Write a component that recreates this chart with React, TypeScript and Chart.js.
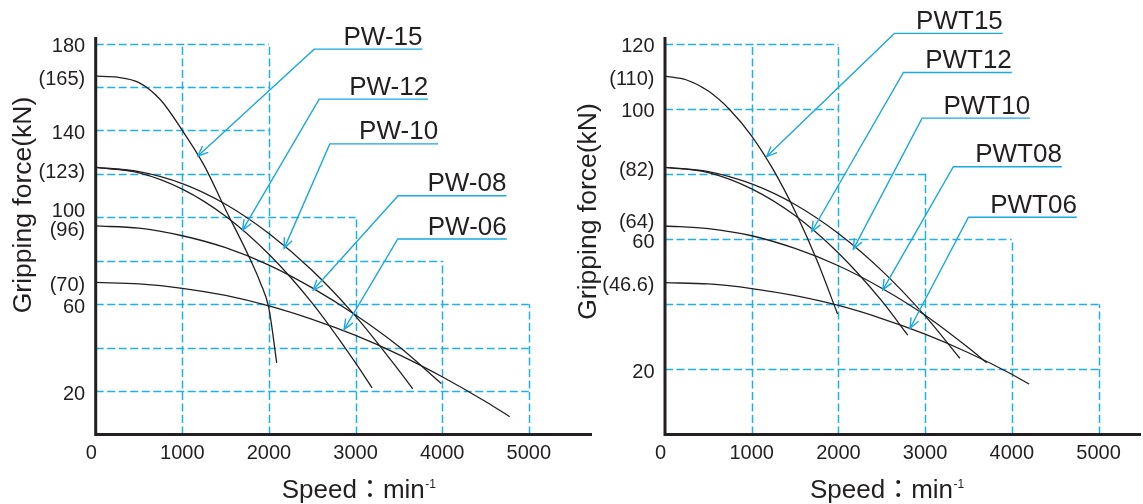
import React, { useEffect, useRef } from 'react';
import { Chart, registerables } from 'chart.js';

Chart.register(...registerables);

// ---------------- DATA ----------------
const speedTicks = [0, 1000, 2000, 3000, 4000, 5000];

// Left panel: PW series (speed min^-1 -> gripping force kN)
const pwNames = ['PW-15', 'PW-12', 'PW-10', 'PW-08', 'PW-06'];
const pw15Speed = [0, 250, 500, 750, 1000, 1250, 1500, 1750, 1900, 2000, 2090];
const pw15Force = [165, 164.5, 162, 154, 140, 124, 103.5, 83.5, 70, 58, 33];
const pw12Speed = [0, 500, 1000, 1500, 2000, 2500, 3000, 3190];
const pw12Force = [123, 120.5, 113, 100.5, 83, 60.5, 33, 21.5];
const pw10Speed = [0, 500, 1000, 1500, 2000, 2500, 3000, 3500, 3660];
const pw10Force = [123, 121, 115.5, 106, 92.5, 75.5, 54.5, 29.5, 21];
const pw08Speed = [0, 500, 1000, 1500, 2000, 2500, 3000, 3500, 3990];
const pw08Force = [96, 95, 91.5, 86, 78, 67.5, 55, 40.5, 23.5];
const pw06Speed = [0, 500, 1000, 1500, 2000, 2500, 3000, 3500, 4000, 4500, 4780];
const pw06Force = [70, 69.3, 67.3, 64, 59.2, 53, 45.6, 36.8, 26.6, 15.2, 8.2];

const pwYTickValues = [180, 165, 140, 123, 100, 96, 70, 60, 20];
const pwYTickLabels = ['180', '(165)', '140', '(123)', '100', '(96)', '(70)', '60', '20'];
// dashed grid: horizontal [force, speed end], vertical [speed, force end]
const pwHGrid = [[180, 2000], [160, 2000], [140, 2000], [120, 2000], [100, 3000], [80, 4000], [60, 5000], [40, 5000], [20, 5000]];
const pwVGrid = [[1000, 180], [2000, 180], [3000, 100], [4000, 80], [5000, 60]];
// leaders: [tip speed, tip force, elbow speed, elbow force, underline end speed]
const pwLeaders = [
  [1180, 128.2, 2522, 177.4, 3773],
  [1696, 94.1, 2580, 154.4, 3838],
  [2176, 85.7, 2703, 133.8, 3953],
  [2511, 66.5, 3491, 109.9, 4742],
  [2868, 48.4, 3488, 90, 4746],
];

// Right panel: PWT series
const pwtNames = ['PWT15', 'PWT12', 'PWT10', 'PWT08', 'PWT06'];
const pwt15Speed = [0, 250, 500, 750, 1000, 1250, 1500, 1750, 1990];
const pwt15Force = [110, 108.8, 105.4, 99.6, 91.6, 81.2, 68.5, 53.6, 37];
const pwt12Speed = [0, 500, 1000, 1500, 2000, 2500, 2800];
const pwt12Force = [82, 80.4, 75.4, 67.2, 55.7, 41, 30.5];
const pwt10Speed = [0, 500, 1000, 1500, 2000, 2500, 3000, 3400];
const pwt10Force = [82, 80.7, 76.9, 70.6, 61.7, 50.3, 36.4, 23.4];
const pwt08Speed = [0, 500, 1000, 1500, 2000, 2500, 3000, 3500, 3710];
const pwt08Force = [64, 63.2, 61, 57.1, 51.8, 44.9, 36.6, 26.6, 22];
const pwt06Speed = [0, 500, 1000, 1500, 2000, 2500, 3000, 3500, 4000, 4200];
const pwt06Force = [46.6, 46.2, 44.8, 42.6, 39.6, 35.6, 30.8, 25.1, 18.5, 15.5];

const pwtYTickValues = [120, 110, 100, 82, 64, 60, 46.6, 20];
const pwtYTickLabels = ['120', '(110)', '100', '(82)', '(64)', '60', '(46.6)', '20'];
const pwtHGrid = [[120, 2000], [100, 2000], [80, 3000], [60, 4000], [40, 5000], [20, 5000]];
const pwtVGrid = [[1000, 120], [2000, 120], [3000, 80], [4000, 60], [5000, 40]];
const pwtLeaders = [
  [1173, 85.3, 2646, 123.1, 3896],
  [1693, 62.3, 2750, 111.1, 4000],
  [2173, 56.9, 2965, 97.1, 4211],
  [2512, 44.4, 3326, 82.2, 4577],
  [2827, 32.6, 3500, 66.7, 4750],
];

const yTitle = 'Gripping force(kN)';
const xTitleMain = 'Speed\uFF1Amin';
const xTitleSup = '-1';

// ---------------- STYLE ----------------
const INK = '#231f20';
const GRID = '#1fb0ea';
const LEAD = '#1aa8e0';
const FONT = '"Liberation Sans", Arial, "Noto Sans CJK JP", sans-serif';

interface Panel {
  names: string[];
  speeds: number[][];
  forces: number[][];
  xMax: number;
  yMax: number;
  yTickValues: number[];
  yTickLabels: string[];
  hGrid: number[][];
  vGrid: number[][];
  leaders: number[][];
  padding: { left: number; right: number; top: number; bottom: number };
  nudge: Record<string, number>;
  yTitlePos: [number, number];
  xTitleStart: number;
}

const leftPanel: Panel = {
  names: pwNames,
  speeds: [pw15Speed, pw12Speed, pw10Speed, pw08Speed, pw06Speed],
  forces: [pw15Force, pw12Force, pw10Force, pw08Force, pw06Force],
  xMax: 5730,
  yMax: 183,
  yTickValues: pwYTickValues,
  yTickLabels: pwYTickLabels,
  hGrid: pwHGrid,
  vGrid: pwVGrid,
  leaders: pwLeaders,
  padding: { left: 95.7, right: 8, top: 37, bottom: 69.5 },
  nudge: { '100': -8.5, '123': 2, '96': 1.5 },
  yTitlePos: [31, 205],
  xTitleStart: 281.7,
};

const rightPanel: Panel = {
  names: pwtNames,
  speeds: [pwt15Speed, pwt12Speed, pwt10Speed, pwt08Speed, pwt06Speed],
  forces: [pwt15Force, pwt12Force, pwt10Force, pwt08Force, pwt06Force],
  xMax: 5490,
  yMax: 122,
  yTickValues: pwtYTickValues,
  yTickLabels: pwtYTickLabels,
  hGrid: pwtHGrid,
  vGrid: pwtVGrid,
  leaders: pwtLeaders,
  padding: { left: 105, right: 2, top: 37, bottom: 69.5 },
  nudge: { '64': -6.5 },
  yTitlePos: [36, 211.5],
  xTitleStart: 250,
};

function makeDecor(p: Panel) {
  return {
    id: 'decor',
    beforeDatasetsDraw(chart: any) {
      const ctx: CanvasRenderingContext2D = chart.ctx;
      const xs = chart.scales.x;
      const ys = chart.scales.y;
      ctx.save();
      ctx.strokeStyle = GRID;
      ctx.lineWidth = 1.5;
      ctx.setLineDash([8, 3.5]);
      for (const [f, xe] of p.hGrid) {
        const y = Math.round(ys.getPixelForValue(f)) + 0.5;
        ctx.beginPath();
        ctx.moveTo(xs.getPixelForValue(0), y);
        ctx.lineTo(xs.getPixelForValue(xe), y);
        ctx.stroke();
      }
      for (const [s, fe] of p.vGrid) {
        const x = Math.round(xs.getPixelForValue(s)) + 0.5;
        ctx.beginPath();
        ctx.moveTo(x, ys.getPixelForValue(0));
        ctx.lineTo(x, ys.getPixelForValue(fe));
        ctx.stroke();
      }
      ctx.restore();
    },
    afterDatasetsDraw(chart: any) {
      const ctx: CanvasRenderingContext2D = chart.ctx;
      const xs = chart.scales.x;
      const ys = chart.scales.y;
      const area = chart.chartArea;
      ctx.save();
      ctx.setLineDash([]);

      // leaders with open arrows and labels
      ctx.strokeStyle = LEAD;
      ctx.lineWidth = 1.4;
      ctx.fillStyle = INK;
      ctx.font = `26px ${FONT}`;
      ctx.textAlign = 'right';
      ctx.textBaseline = 'alphabetic';
      p.leaders.forEach((l, i) => {
        const tx = xs.getPixelForValue(l[0]);
        const ty = ys.getPixelForValue(l[1]);
        const ex = xs.getPixelForValue(l[2]);
        const ey = ys.getPixelForValue(l[3]);
        const endX = xs.getPixelForValue(l[4]);
        ctx.beginPath();
        ctx.moveTo(endX, ey);
        ctx.lineTo(ex, ey);
        ctx.lineTo(tx, ty);
        ctx.stroke();
        const ang = Math.atan2(ty - ey, tx - ex);
        const len = 11;
        const spread = 0.4;
        ctx.beginPath();
        ctx.moveTo(tx - len * Math.cos(ang - spread), ty - len * Math.sin(ang - spread));
        ctx.lineTo(tx, ty);
        ctx.lineTo(tx - len * Math.cos(ang + spread), ty - len * Math.sin(ang + spread));
        ctx.stroke();
        ctx.fillText(p.names[i], endX, ey - 4.5);
      });

      // axes
      ctx.strokeStyle = INK;
      ctx.lineWidth = 3;
      ctx.beginPath();
      ctx.moveTo(area.left, area.bottom + 1.5);
      ctx.lineTo(area.left, area.top);
      ctx.moveTo(area.left - 1.5, area.bottom);
      ctx.lineTo(area.right, area.bottom);
      ctx.stroke();

      // y tick labels
      ctx.font = `20px ${FONT}`;
      ctx.textAlign = 'right';
      p.yTickValues.forEach((v, i) => {
        const n = p.nudge[String(v)] || 0;
        const y = ys.getPixelForValue(v) + 7.2 + 1.5 + n;
        ctx.fillText(p.yTickLabels[i], area.left - 10.5, y);
      });

      // x tick labels
      ctx.textAlign = 'center';
      speedTicks.forEach((v) => {
        const x = xs.getPixelForValue(v) + (v === 0 ? -4.5 : 0);
        ctx.fillText(String(v), x, 458.5);
      });

      // y title
      ctx.save();
      ctx.font = `26.5px ${FONT}`;
      ctx.translate(p.yTitlePos[0], p.yTitlePos[1]);
      ctx.rotate(-Math.PI / 2);
      ctx.textAlign = 'center';
      ctx.fillText(yTitle, 0, 0);
      ctx.restore();

      // x title with superscript
      ctx.font = `26px ${FONT}`;
      ctx.textAlign = 'left';
      ctx.fillText(xTitleMain, p.xTitleStart, 497.5);
      const w = ctx.measureText(xTitleMain).width;
      ctx.font = `12px ${FONT}`;
      ctx.fillText(xTitleSup, p.xTitleStart + w + 0.5, 488);

      ctx.restore();
    },
  };
}

function build(canvas: HTMLCanvasElement, p: Panel) {
  const datasets = p.names.map((name, i) => ({
    label: name,
    data: p.speeds[i].map((s, j) => ({ x: s, y: p.forces[i][j] })),
    borderColor: INK,
    borderWidth: 1.3,
    pointRadius: 0,
    fill: false,
    cubicInterpolationMode: 'monotone' as const,
  }));
  return new Chart(canvas, {
    type: 'line',
    data: { datasets },
    options: {
      responsive: false,
      animation: false,
      events: [],
      layout: { padding: p.padding },
      plugins: { legend: { display: false }, tooltip: { enabled: false } },
      scales: {
        x: { type: 'linear', display: false, min: 0, max: p.xMax },
        y: { type: 'linear', display: false, min: 0, max: p.yMax },
      },
    },
    plugins: [makeDecor(p)],
  } as any);
}

export default function App() {
  const leftRef = useRef<HTMLCanvasElement>(null);
  const rightRef = useRef<HTMLCanvasElement>(null);
  useEffect(() => {
    const a = build(leftRef.current as HTMLCanvasElement, leftPanel);
    const b = build(rightRef.current as HTMLCanvasElement, rightPanel);
    return () => {
      a.destroy();
      b.destroy();
    };
  }, []);
  return (
    <div style={{ position: 'absolute', left: 0, top: 0, width: 1143, height: 504, background: '#fff', overflow: 'hidden' }}>
      <canvas ref={leftRef} width={600} height={504} style={{ position: 'absolute', left: 0, top: 0, width: 600, height: 504 }} />
      <canvas ref={rightRef} width={583} height={504} style={{ position: 'absolute', left: 560, top: 0, width: 583, height: 504 }} />
    </div>
  );
}
